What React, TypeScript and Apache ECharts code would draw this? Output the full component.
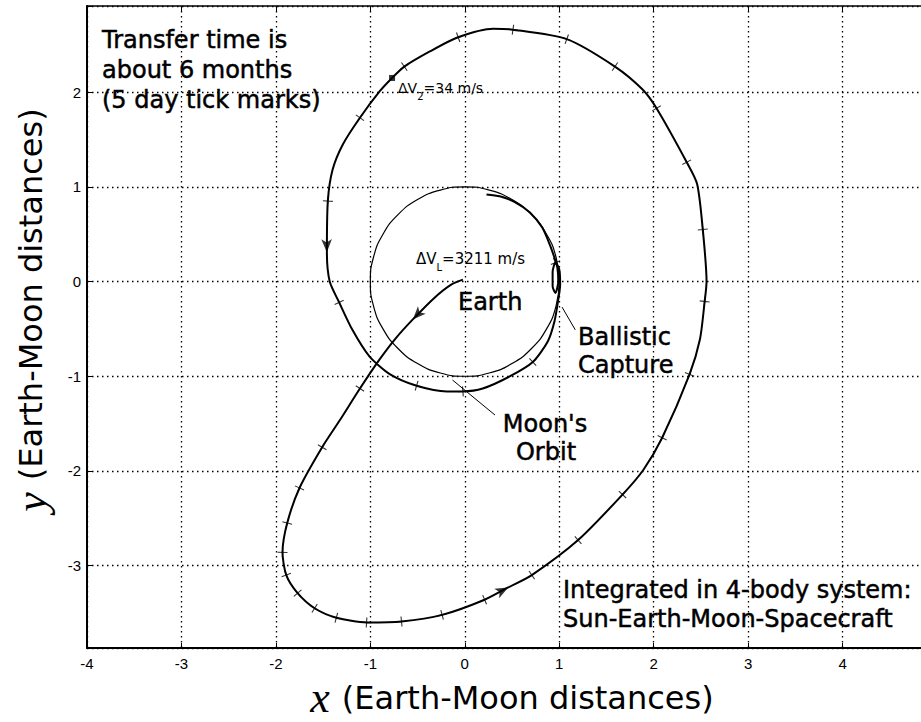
import React, { useEffect, useRef } from "react";
import * as echarts from "echarts";

// Spacecraft trajectory (Earth-Moon distances), in flight order
const trajX = [
  -0.02, -0.14, -0.32, -0.55, -0.74, -0.9, -1.11, -1.32, -1.51, -1.75, -1.88, -1.93, -1.89, -1.77, -1.59,
  -1.36, -1.04, -0.67, -0.24, 0.21, 0.46, 0.71, 1.2, 1.67, 1.89, 2.09, 2.38, 2.49, 2.54, 2.56, 2.52, 2.46,
  2.35, 2.03, 1.88, 1.59, 1.08, 0.51, 0.3, -0.07, -0.37, -0.64, -0.77, -0.9, -1.11, -1.29, -1.4, -1.45,
  -1.46, -1.43, -1.33, -1.19, -1.01, -0.79, -0.51, -0.19, -0.02, 0.19, 0.48, 0.72, 0.88, 0.95, 0.99, 1.01,
  1.0, 0.96, 0.93, 0.93, 0.96, 0.99, 0.98, 0.95, 0.9, 0.82, 0.69, 0.53, 0.37, 0.23,
];
const trajY = [
  0.02, -0.03, -0.17, -0.4, -0.61, -0.82, -1.13, -1.46, -1.75, -2.18, -2.55, -2.86, -3.1, -3.29, -3.45,
  -3.55, -3.6, -3.59, -3.52, -3.36, -3.23, -3.1, -2.73, -2.25, -1.99, -1.65, -0.98, -0.61, -0.21, 0.0, 0.55,
  1.03, 1.26, 1.83, 2.03, 2.27, 2.56, 2.66, 2.67, 2.58, 2.43, 2.27, 2.15, 2.01, 1.73, 1.45, 1.18, 0.85,
  0.31, 0.0, -0.22, -0.51, -0.79, -0.98, -1.1, -1.16, -1.16, -1.13, -1.0, -0.85, -0.63, -0.42, -0.19, -0.03,
  0.13, 0.2, 0.1, -0.05, -0.12, 0.0, 0.15, 0.25, 0.39, 0.57, 0.73, 0.84, 0.9, 0.92,
];

// 5-day tick marks along the trajectory
const tickX = [
  -1.11, -1.51, -1.75, -1.88, -1.93, -1.89, -1.77, -1.59, -1.36, -1.04, -0.67, -0.24, 0.21, 0.71, 1.2, 1.67,
  2.09, 2.38, 2.54, 2.52, 2.35, 2.03, 1.59, 1.08, 0.51, -0.07, -0.64, -1.11, -1.45, -1.33, -0.51, -0.02, 0.72,
  0.96,
];
const tickY = [
  -1.13, -1.75, -2.18, -2.55, -2.86, -3.1, -3.29, -3.45, -3.55, -3.6, -3.59, -3.52, -3.36, -3.1, -2.73, -2.25,
  -1.65, -0.98, -0.21, 0.55, 1.26, 1.83, 2.27, 2.56, 2.66, 2.58, 2.27, 1.73, 0.85, -0.22, -1.1, -1.16, -0.85,
  0.2,
];

// direction arrows
const arrowX = [-0.55, 0.46, -1.46];
const arrowY = [-0.4, -3.23, 0.31];

// second manoeuvre point
const dv2X = [-0.77];
const dv2Y = [2.15];

// Moon's orbit (radius 1 around the Earth)
const moonX = [1, 0.966, 0.866, 0.707, 0.5, 0.259, 0, -0.259, -0.5, -0.707, -0.866, -0.966, -1, -0.966, -0.866, -0.707, -0.5, -0.259, 0, 0.259, 0.5, 0.707, 0.866, 0.966, 1];
const moonY = [0, 0.259, 0.5, 0.707, 0.866, 0.966, 1, 0.966, 0.866, 0.707, 0.5, 0.259, 0, -0.259, -0.5, -0.707, -0.866, -0.966, -1, -0.966, -0.866, -0.707, -0.5, -0.259, 0];

// annotation pointer lines
const capturePointerX = [1.03, 1.17];
const capturePointerY = [-0.27, -0.51];
const orbitPointerX = [-0.13, 0.32];
const orbitPointerY = [-1.04, -1.41];

const X_MIN = -4;
const X_MAX = 5;
const Y_MIN = -3.87;
const Y_MAX = 2.91;

const FONT = "'DejaVu Sans', 'Liberation Sans', sans-serif";
const TICK_FONT = "'Liberation Sans', Arial, sans-serif";

function pairs(xs: number[], ys: number[]) {
  return xs.map((x, i) => [x, ys[i]]);
}

function dirAt(x: number, y: number) {
  let best = 0;
  let bd = Infinity;
  for (let i = 0; i < trajX.length; i++) {
    const d = (trajX[i] - x) ** 2 + (trajY[i] - y) ** 2;
    if (d < bd) {
      bd = d;
      best = i;
    }
  }
  const a = Math.max(0, best - 1);
  const b = Math.min(trajX.length - 1, best + 1);
  return (Math.atan2(trajY[b] - trajY[a], trajX[b] - trajX[a]) * 180) / Math.PI;
}

export default function App() {
  const ref = useRef<HTMLDivElement>(null);

  useEffect(() => {
    if (!ref.current) return;
    const chart = echarts.init(ref.current, null, { renderer: "svg" });

    const text = (t: string, x: number, y: number, size = 24, align = "left") => ({
      type: "text",
      x,
      y,
      silent: true,
      style: {
        text: t,
        fill: "#000",
        stroke: "#000",
        lineWidth: 0.5,
        font: `${size}px ${FONT}`,
        textAlign: align,
        align,
        textVerticalAlign: "middle",
        verticalAlign: "middle",
      },
    });

    const dvText = (main: string, sub: string, rest: string, x: number, y: number, size: number) => ({
      type: "text",
      x,
      y,
      silent: true,
      style: {
        text: `{a|${main}}{s|${sub}}{a|${rest}}`,
        fill: "#000",
        font: `${size}px ${FONT}`,
        textVerticalAlign: "top",
        verticalAlign: "top",
        rich: {
          a: { fontSize: size, fontFamily: FONT, lineHeight: size, verticalAlign: "top", fill: "#000" },
          s: {
            fontSize: Math.round(size * 0.68),
            fontFamily: FONT,
            lineHeight: Math.round(size * 0.68),
            padding: [Math.round(size * 0.72), 0, 0, 0],
            verticalAlign: "top",
            fill: "#000",
          },
        },
      },
    });

    const gridLine = { show: true, lineStyle: { color: "#000", width: 1.3, type: [1.5, 3.5] } };

    const nameRich = {
      i: {
        fontFamily: "'Liberation Serif', serif",
        fontStyle: "italic",
        fontSize: 44,
        color: "#000",
        padding: [0, 12, 0, 0],
      },
      n: { fontFamily: FONT, fontSize: 32, color: "#000" },
    };

    chart.setOption({
      animation: false,
      backgroundColor: "#fff",
      grid: { left: 87, top: 6, right: -16, bottom: 74, containLabel: false, outerBoundsMode: "none" },
      xAxis: [
        {
          type: "value",
          min: X_MIN,
          max: X_MAX,
          interval: 1,
          position: "bottom",
          axisLine: { show: true, onZero: false, lineStyle: { color: "#000", width: 2 } },
          axisTick: { show: true, inside: true, length: 5, lineStyle: { color: "#000", width: 1 } },
          axisLabel: {
            color: "#000",
            fontFamily: TICK_FONT,
            fontSize: 15,
            margin: 8,
            formatter: (v: number) => (v >= X_MAX ? "" : String(v)),
          },
          splitLine: gridLine,
          name: "{i|x}{n|(Earth-Moon distances)}",
          nameLocation: "middle",
          nameGap: 22,
          nameTextStyle: { color: "#000", rich: nameRich },
        },
        {
          type: "value",
          min: X_MIN,
          max: X_MAX,
          interval: 1,
          position: "top",
          axisLine: { show: true, onZero: false, lineStyle: { color: "#000", width: 1.5 } },
          axisTick: { show: true, inside: true, length: 5, lineStyle: { color: "#000" } },
          axisLabel: { show: false },
          splitLine: { show: false },
        },
      ],
      yAxis: {
        type: "value",
        min: Y_MIN,
        max: Y_MAX,
        splitNumber: 7,
        minInterval: 1,
        maxInterval: 1,
        axisLine: { show: true, onZero: false, lineStyle: { color: "#000", width: 2 } },
        axisTick: { show: true, inside: true, length: 5, lineStyle: { color: "#000" } },
        axisLabel: {
          color: "#000",
          fontFamily: TICK_FONT,
          fontSize: 15,
          margin: 6,
          formatter: (v: number) => (Math.abs(v - Math.round(v)) < 1e-6 ? String(Math.round(v)) : ""),
        },
        splitLine: gridLine,
        name: "{i|y}{n|(Earth-Moon distances)}",
        nameLocation: "middle",
        nameGap: 34,
        nameTextStyle: {
          color: "#000",
          padding: [0, 0, 0, 34],
          rich: nameRich,
        },
      },
      series: [
        {
          name: "Moon's orbit",
          type: "line",
          data: pairs(moonX, moonY),
          smooth: 0.5,
          showSymbol: false,
          silent: true,
          lineStyle: { color: "#000", width: 1.2 },
        },
        {
          name: "Trajectory",
          type: "line",
          data: pairs(trajX, trajY),
          smooth: 0.25,
          showSymbol: false,
          silent: true,
          lineStyle: { color: "#000", width: 2 },
        },
        {
          name: "5-day ticks",
          type: "scatter",
          silent: true,
          symbol: "path://M-5,0L5,0M0,-5L0,5",
          symbolSize: 10,
          itemStyle: { color: "none", borderColor: "#000", borderWidth: 1.1 },
          data: tickX.map((x, i) => ({ value: [x, tickY[i]], symbolRotate: dirAt(x, tickY[i]) })),
        },
        {
          name: "Arrows",
          type: "scatter",
          silent: true,
          symbol: "arrow",
          symbolSize: [8, 13],
          itemStyle: { color: "#000" },
          data: arrowX.map((x, i) => ({ value: [x, arrowY[i]], symbolRotate: dirAt(x, arrowY[i]) - 90 })),
        },
        {
          name: "dV2",
          type: "scatter",
          silent: true,
          symbol: "rect",
          symbolSize: 6,
          itemStyle: { color: "#000" },
          data: pairs(dv2X, dv2Y),
        },
        {
          name: "Capture pointer",
          type: "line",
          data: pairs(capturePointerX, capturePointerY),
          showSymbol: false,
          silent: true,
          lineStyle: { color: "#000", width: 1 },
        },
        {
          name: "Orbit pointer",
          type: "line",
          data: pairs(orbitPointerX, orbitPointerY),
          showSymbol: false,
          silent: true,
          lineStyle: { color: "#000", width: 1 },
        },
      ],
      graphic: [
        text("Transfer time is", 102, 40),
        text("about 6 months", 102, 70),
        text("(5 day tick marks)", 102, 100),
        text("Earth", 458, 302),
        text("Ballistic", 578, 337),
        text("Capture", 578, 365),
        text("Moon's", 545, 424, 24, "center"),
        text("Orbit", 546, 452, 24, "center"),
        text("Integrated in 4-body system:", 563, 590),
        text("Sun-Earth-Moon-Spacecraft", 563, 619),
        dvText("ΔV", "L", "=3211 m/s", 416, 251, 15),
        dvText("ΔV", "2", "=34 m/s", 398, 81, 14),
      ],
    });

    return () => chart.dispose();
  }, []);

  return (
    <div
      ref={ref}
      style={{ position: "absolute", left: 0, top: 0, width: 921, height: 722, background: "#fff" }}
    />
  );
}
